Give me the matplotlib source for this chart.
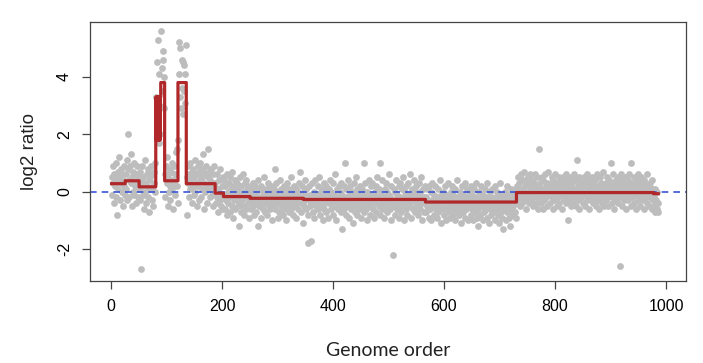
import numpy as np
import matplotlib
matplotlib.use("Agg")
import matplotlib.pyplot as plt

plt.rcParams['axes.unicode_minus'] = False

# ---- data: log2 ratio per probe in genome order ----
ratio_001_080 = [
    0.5, -0.1, 0.9, 0.3, -0.4, 0.6, 0.2, 1.0, -0.2, 0.4, -0.8, 0.7, 0.1, 0.5, 1.2, -0.3, 0.3, 0.8, 0.0, 0.6,
    -0.5, 0.4, 0.9, 0.2, -0.1,
    0.6, 0.1, 1.1, -0.3, 0.8, 2.0, 0.4, -0.2, 0.9, 0.3, 1.3, -0.5, 0.5, 0.0, 0.7, -0.1, 1.0, 0.2, 0.6, -0.4,
    0.3, 0.9, -0.2, 0.5, 0.1,
    0.4, -0.3, 0.7, -2.7, 0.2, 0.9, -0.1, 0.5, -0.6, 0.3, 1.1, 0.0, -0.4, 0.6, 0.2, 0.8, -0.2, 0.4, -0.7, 0.5,
    0.1, 0.9, -0.3, 0.6, 0.2, -0.5, 0.7, 0.3, 1.0, 0.0,
]
ratio_081_135 = [
    3.3, 1.8, 4.5, 2.2, 5.3, 4.1, 1.7, 3.0, 2.0,
    5.6, 4.3, 3.5, 4.9, 4.6, 2.9, 4.0,
    0.6, -0.2, 0.9, 0.3, 1.2, -0.5, 0.5, 0.0, 0.8, 0.2, -0.3, 0.7, 1.0, 0.1, 0.4, -0.6, 0.9, 0.3, 0.6, -0.1,
    1.4, 0.2, 1.5, -0.4,
    1.8, 5.2, 4.1, 3.3, 5.0, 2.9, 4.6, 3.6, 4.5, 2.7, 4.4, 3.5, 4.1, 3.1, 5.1,
]
ratio_136_250 = [
    0.5, -0.8, 0.3, 0.9, -0.2, 0.6, 0.1, 1.0, 0.4, -0.4, 0.7, 0.2, 0.8, -0.1, 0.5, 1.1, 0.0, 0.3, -0.5, 0.6,
    0.9, 0.2, -0.3, 0.7, 0.4, 1.0, -0.2, 0.5, 0.1, 0.8, 1.3, -0.6, 0.3, 0.6, 0.0, 0.9, 0.2, -0.4, 0.5, 1.5,
    0.1, 0.7, -0.2, 0.4, 0.8, -0.1, 0.3, 0.6, -0.5, 0.2, 0.9, 0.0,
    0.3, -0.4, 0.6, -0.2, 0.1, -0.7, 0.4, 0.0, -0.3, 0.8, -0.5, 0.2, -0.1, -0.6, 0.5,
    -0.1, 0.4, -0.6, 0.2, -0.3, 0.6, -0.8, 0.0, -0.4, 0.3, -0.2, 0.5, -0.7, 0.1, -0.5, 0.7, -0.1, -0.9, 0.2, -0.3,
    0.4, -0.6, 0.0, -0.2, 0.3, -0.5, 0.1, -1.2, -0.4, 0.5, -0.1, -0.7, 0.2, -0.3, 0.6, -0.5, 0.0, -0.8, 0.3, -0.2,
    0.4, -0.6, 0.1, -0.4, 0.2, -0.9, 0.0, -0.3,
]
ratio_251_566 = [
    -0.3, 0.1, -0.6, -0.2, 0.3, -0.5, -0.1, -0.8, 0.2, -0.4, 0.0, -0.7, -0.3, 0.4, -1.2, -0.2, -0.5, 0.1, -0.4, -0.9,
    0.2, -0.3, -0.6, 0.0, -0.2, 0.5, -0.7, -0.4, 0.1, -0.1, -0.8, -0.3, 0.3, -0.5, -0.2, 0.0, -0.6, -0.4, 0.2, -1.0,
    -0.1, -0.5, 0.1, -0.3, 0.8, -0.6, -0.2, 0.3, -0.4, -0.9, 0.0, -0.2, -0.7, 0.4, -0.3, -0.5, 0.1, -0.1, -0.8, -0.4,
    0.2, -0.6, -0.3, 0.0, -1.0, -0.2, 0.3, -0.5, -0.1, -0.7, 0.1, -0.4, -0.2, 0.5, -0.6, -0.3, 0.0, -0.8, -0.1, 0.2,
    -0.5, -0.2, -0.9, 0.1, -0.4, 0.0, -0.6, 0.3, -0.3, 0.7, -0.1, -0.7, -0.4, 0.2, -0.2, -1.1, -0.5, 0.0, 0.4, -0.3,
    -0.6, 0.1, -0.2, -0.8, -1.8, -0.3, 0.2, -0.5, -0.1, -1.7, -0.4, 0.3, -0.7, -0.2, 0.0, -0.9, -0.3, 0.4, -0.5, -0.1,
    -0.4, 0.2, -0.6, -0.2, 0.5, -0.8, -0.3, 0.0, -0.5, 0.1, -1.0, -0.2, 0.3, -0.6, -0.4, 0.0, -0.7, 0.2, -0.3, -0.1,
    -0.9, 0.1, -0.4, -0.2, 0.4, -0.6, 0.0, -0.3, -0.8, 0.3, -0.1, -0.5, 0.6, -0.4, -0.2, -1.0, 0.1, -0.6, -0.3, 0.2,
    -0.5, 0.0, -0.2, -0.7, 0.3, -1.3, -0.1, -0.4, 0.2, -0.6, -0.3, 1.0, -0.8, 0.1, -0.2, -0.5, 0.4, -0.1, -0.9, -0.3,
    0.2, -0.4, -0.6, 0.0, -0.2, -1.1, 0.3, -0.5, -0.1, -0.7, 0.5, -0.3, -0.8, 0.1, -0.4, 0.0, -0.6, 0.2, -0.2, -0.9,
    -0.3, 0.1, -0.5, -0.1, -0.7, 1.0, -0.4, 0.3, -0.2, -0.6, 0.0, -1.0, -0.3, 0.4, -0.5, -0.1, -0.8, 0.2, -0.4, -0.2,
    0.3, -0.6, -0.1, -0.9, 0.0, -0.4, 0.2, -0.7, -0.3, 0.5, -0.2, -0.5, 0.1, -0.8, 1.0, -0.3, -0.1, -0.6, 0.4, -0.4,
    -0.2, -0.9, 0.1, -0.5, -0.3, 0.3, -0.7, 0.0, -0.4, -0.1, 0.6, -0.6, -0.2, -1.0, 0.2, -0.4, -0.3, -2.2, 0.1, -0.5,
    -0.8, 0.0, -0.3, 0.4, -0.6, -0.1, -0.4, 0.2, -0.9, -0.2, 0.3, -0.5, -0.7, 0.1, -0.3, 0.5, -0.4, -1.0, 0.0, -0.2,
    -0.6, 0.2, -0.1, -0.8, 0.3, -0.4, -0.2, 0.6, -0.5, -0.1, -0.9, 0.1, -0.3, -0.6, 0.4, -0.2, -0.7, 0.0, -0.4, 0.2,
    -0.5, -0.1, -0.8, 0.3, -0.3, 0.0, -0.6, -0.2, 0.5, -1.0, -0.4, 0.1, -0.2, -0.7, 0.2, -0.3,
]
ratio_567_730 = [
    -0.2, -0.7, 0.1, -0.5, -0.3, -0.9, 0.2, -0.4, -0.6, 0.0, -1.0, -0.3, 0.3, -0.5, -0.8, -0.1, -0.4, 0.2, -0.6, -0.2,
    -0.9, -0.3, 0.1, -0.7, -0.4, 0.4, -0.5, -0.1, -1.1, -0.2, -0.6, 0.0, -0.4, -0.8, 0.2, -0.3, -0.5, -1.0, -0.1, -0.6,
    0.3, -0.4, -0.7, -0.2, -0.9, 0.0, -0.5, -0.3, 0.2, -0.8, -0.1, -0.6, -1.0, 0.1, -0.4, -0.2, -0.7, 0.4, -0.5, -0.3,
    -0.8, 0.0, -0.6, -0.2, -1.1, 0.2, -0.4, -0.7, -0.1, -0.5, 0.3, -0.9, -0.3, -0.6, 0.1, -0.4, -0.2, -1.0, 0.0, -0.5,
    -0.3, -0.8, 0.2, -0.6, -0.1, -0.4, -1.0, 0.1, -0.7, -0.2, -0.5, 0.3, -0.9, -0.3, -0.6, -1.2, 0.0, -0.4, -0.8, -0.2,
    0.2, -0.5, -0.3, -1.0, -0.1, -0.7, 0.1, -0.4, -0.6, -0.2, -0.9, 0.3, -0.5, -0.3, -1.1, 0.0, -0.6, -0.2, -0.8, -0.4,
    0.1, -0.7, -0.3, -0.5, 0.2, -1.0, -0.2, -0.6, -0.4, 0.0, -0.8, -0.3, -1.1, 0.3, -0.5, -0.1, -0.7, -0.4, -0.9, -1.3,
    -0.2, -0.6, 0.0, -0.4, -1.0, -0.3, 0.2, -0.7, -0.5, -0.1, -0.9, -0.3, -1.2, 0.1, -0.6, -0.4, -0.8, 0.0, -0.5, -0.2,
    -0.7, 0.1, -0.4, -0.9,
]
ratio_731_986 = [
    0.2, -0.3, 0.5, -0.1, 0.3, -0.5, 0.0, 0.6, -0.2, 0.1, -0.4, 0.4, -0.1, 0.7, -0.3, 0.2, -0.6, 0.0, 0.3, -0.2,
    0.5, -0.1, -0.4, 0.2, 0.6, -0.3, 0.1, -0.2, 0.4, -0.5, 0.0, 0.3, -0.1, 0.6, -0.4, 0.2, -0.2, 0.5, -0.6, 0.1,
    1.5, -0.2, 0.3, -0.4, 0.1, 0.5, -0.1, -0.6, 0.4, 0.0, -0.3, 0.6, 0.2, -0.2, 0.3, -0.5, 0.1, 0.7, -0.1, 0.2,
    -0.4, 0.3, 0.0, 0.5, -0.2, -0.6, 0.4, 0.1, -0.3, 0.6, -0.1, 0.2, -0.5, 0.3, 0.0, -0.2, 0.5, -0.4, 0.1, 0.4,
    -0.1, 0.2, -0.6, 0.5, 0.0, -0.3, 0.3, -0.1, 0.6, -0.4, 0.1, -0.2, -1.0, 0.4, -0.3, 0.2, 0.0, -0.5, 0.5, -0.1,
    0.3, -0.4, 0.1, 0.6, -0.2, 0.0, -0.5, 0.4, -0.1, 1.1, 0.2, -0.3, 0.5, -0.6, 0.1, 0.3, -0.2, 0.0, 0.4, -0.4,
    0.2, -0.1, 0.5, -0.5, 0.0, 0.3, -0.3, 0.6, -0.2, 0.1, -0.6, 0.4, 0.0, -0.3, 0.2, 0.5, -0.1, -0.4, 0.3, 0.1,
    -0.2, 0.4, -0.5, 0.1, 0.6, -0.1, -0.3, 0.2, 0.0, -0.6, 0.5, -0.2, 0.3, -0.4, 0.1, 0.7, -0.1, 0.2, -0.5, 0.0,
    0.3, -0.3, 0.1, 0.5, -0.2, -0.5, 0.4, 0.0, -0.1, 0.2, 1.0, -0.4, 0.3, -0.2, 0.6, 0.0, -0.6, 0.1, 0.4, -0.3,
    0.2, -0.1, 0.5, -0.4, 0.0, 0.3, -2.6, -0.2, 0.6, 0.1, -0.5, 0.4, -0.1, 0.2, -0.3, 0.5, 0.0, -0.6, 0.3, -0.2,
    0.4, -0.3, 0.1, 0.6, -0.1, -0.5, 1.0, 0.2, -0.2, 0.3, 0.0, -0.4, 0.5, -0.1, 0.2, -0.6, 0.4, 0.1, -0.3, 0.6,
    -0.2, 0.3, 0.0, -0.5, 0.5, 0.1, -0.3, 0.2, -0.1, 0.4, -0.6, 0.0, 0.3, -0.2, 0.6, -0.4, 0.1, -0.1, 0.2, -0.5,
    0.3, -0.2, 0.0, -0.6, 0.4, -0.3, 0.1,
    -0.2, -0.5, 0.1, -0.7, -0.3, -0.6, 0.0, -0.4, -0.7,
]

# segmentation (first probe, last probe, segment mean)
seg_start = [1, 26, 51, 81, 82, 83, 84, 85, 86, 87, 88, 89, 90, 97, 121, 136, 188, 203, 251, 347, 567, 731, 978]
seg_end   = [25, 50, 80, 81, 82, 83, 84, 85, 86, 87, 88, 89, 96, 120, 135, 187, 202, 250, 346, 566, 730, 977, 986]
seg_mean  = [0.28, 0.38, 0.17, 3.3, 1.8, 3.3, 1.8, 3.3, 1.8, 3.3, 1.8, 3.3, 3.8, 0.38, 3.8, 0.28, -0.05, -0.17,
             -0.23, -0.27, -0.36, -0.03, -0.07]

x_ticks = [0, 200, 400, 600, 800, 1000]
y_ticks = [-2, 0, 2, 4]

# ---- build ----
ratio = np.array(ratio_001_080 + ratio_081_135 + ratio_136_250 + ratio_251_566 + ratio_567_730 + ratio_731_986)
pos = np.arange(1, len(ratio) + 1)
seg_len = np.array(seg_end) - np.array(seg_start) + 1
fitted = np.repeat(seg_mean, seg_len)
fit_pos = np.arange(seg_start[0], seg_end[-1] + 1)

fig = plt.figure(figsize=(7.03, 3.63), dpi=100)
ax = fig.add_axes([90 / 703, 1 - 281 / 363, (686 - 90) / 703, (281 - 22) / 363])

ax.scatter(pos, ratio, s=24, color='#bdbdbd', linewidths=0, zorder=1)
ax.axhline(0, color='#3a55d6', lw=1.2, ls=(0, (4, 3)), zorder=2)
ax.step(fit_pos, fitted, where='mid', color='#b0282a', lw=2.3, zorder=3)

ax.set_xlim(-38, 1036)
ax.set_ylim(-3.11, 5.91)
ax.set_xticks(x_ticks)
ax.set_yticks(y_ticks)
ax.set_xticklabels([str(t) for t in x_ticks], fontsize=11.5, family='Liberation Sans')
ax.set_yticklabels([str(t) for t in y_ticks], fontsize=11.5, family='Liberation Sans',
                   rotation=90, va='center')
ax.tick_params(axis='both', length=6, width=0.9, color='#444444', direction='out')
ax.tick_params(axis='x', pad=7)
ax.tick_params(axis='y', pad=7)
for sp in ax.spines.values():
    sp.set_color('#444444')
    sp.set_linewidth(0.9)

ax.set_xlabel('Genome order', fontsize=14, family='Lato', color='#222222', labelpad=20)
ax.set_ylabel('log2 ratio', fontsize=13.5, family='Liberation Sans', color='#222222', labelpad=14)

fig.savefig('out.png', dpi=100)
